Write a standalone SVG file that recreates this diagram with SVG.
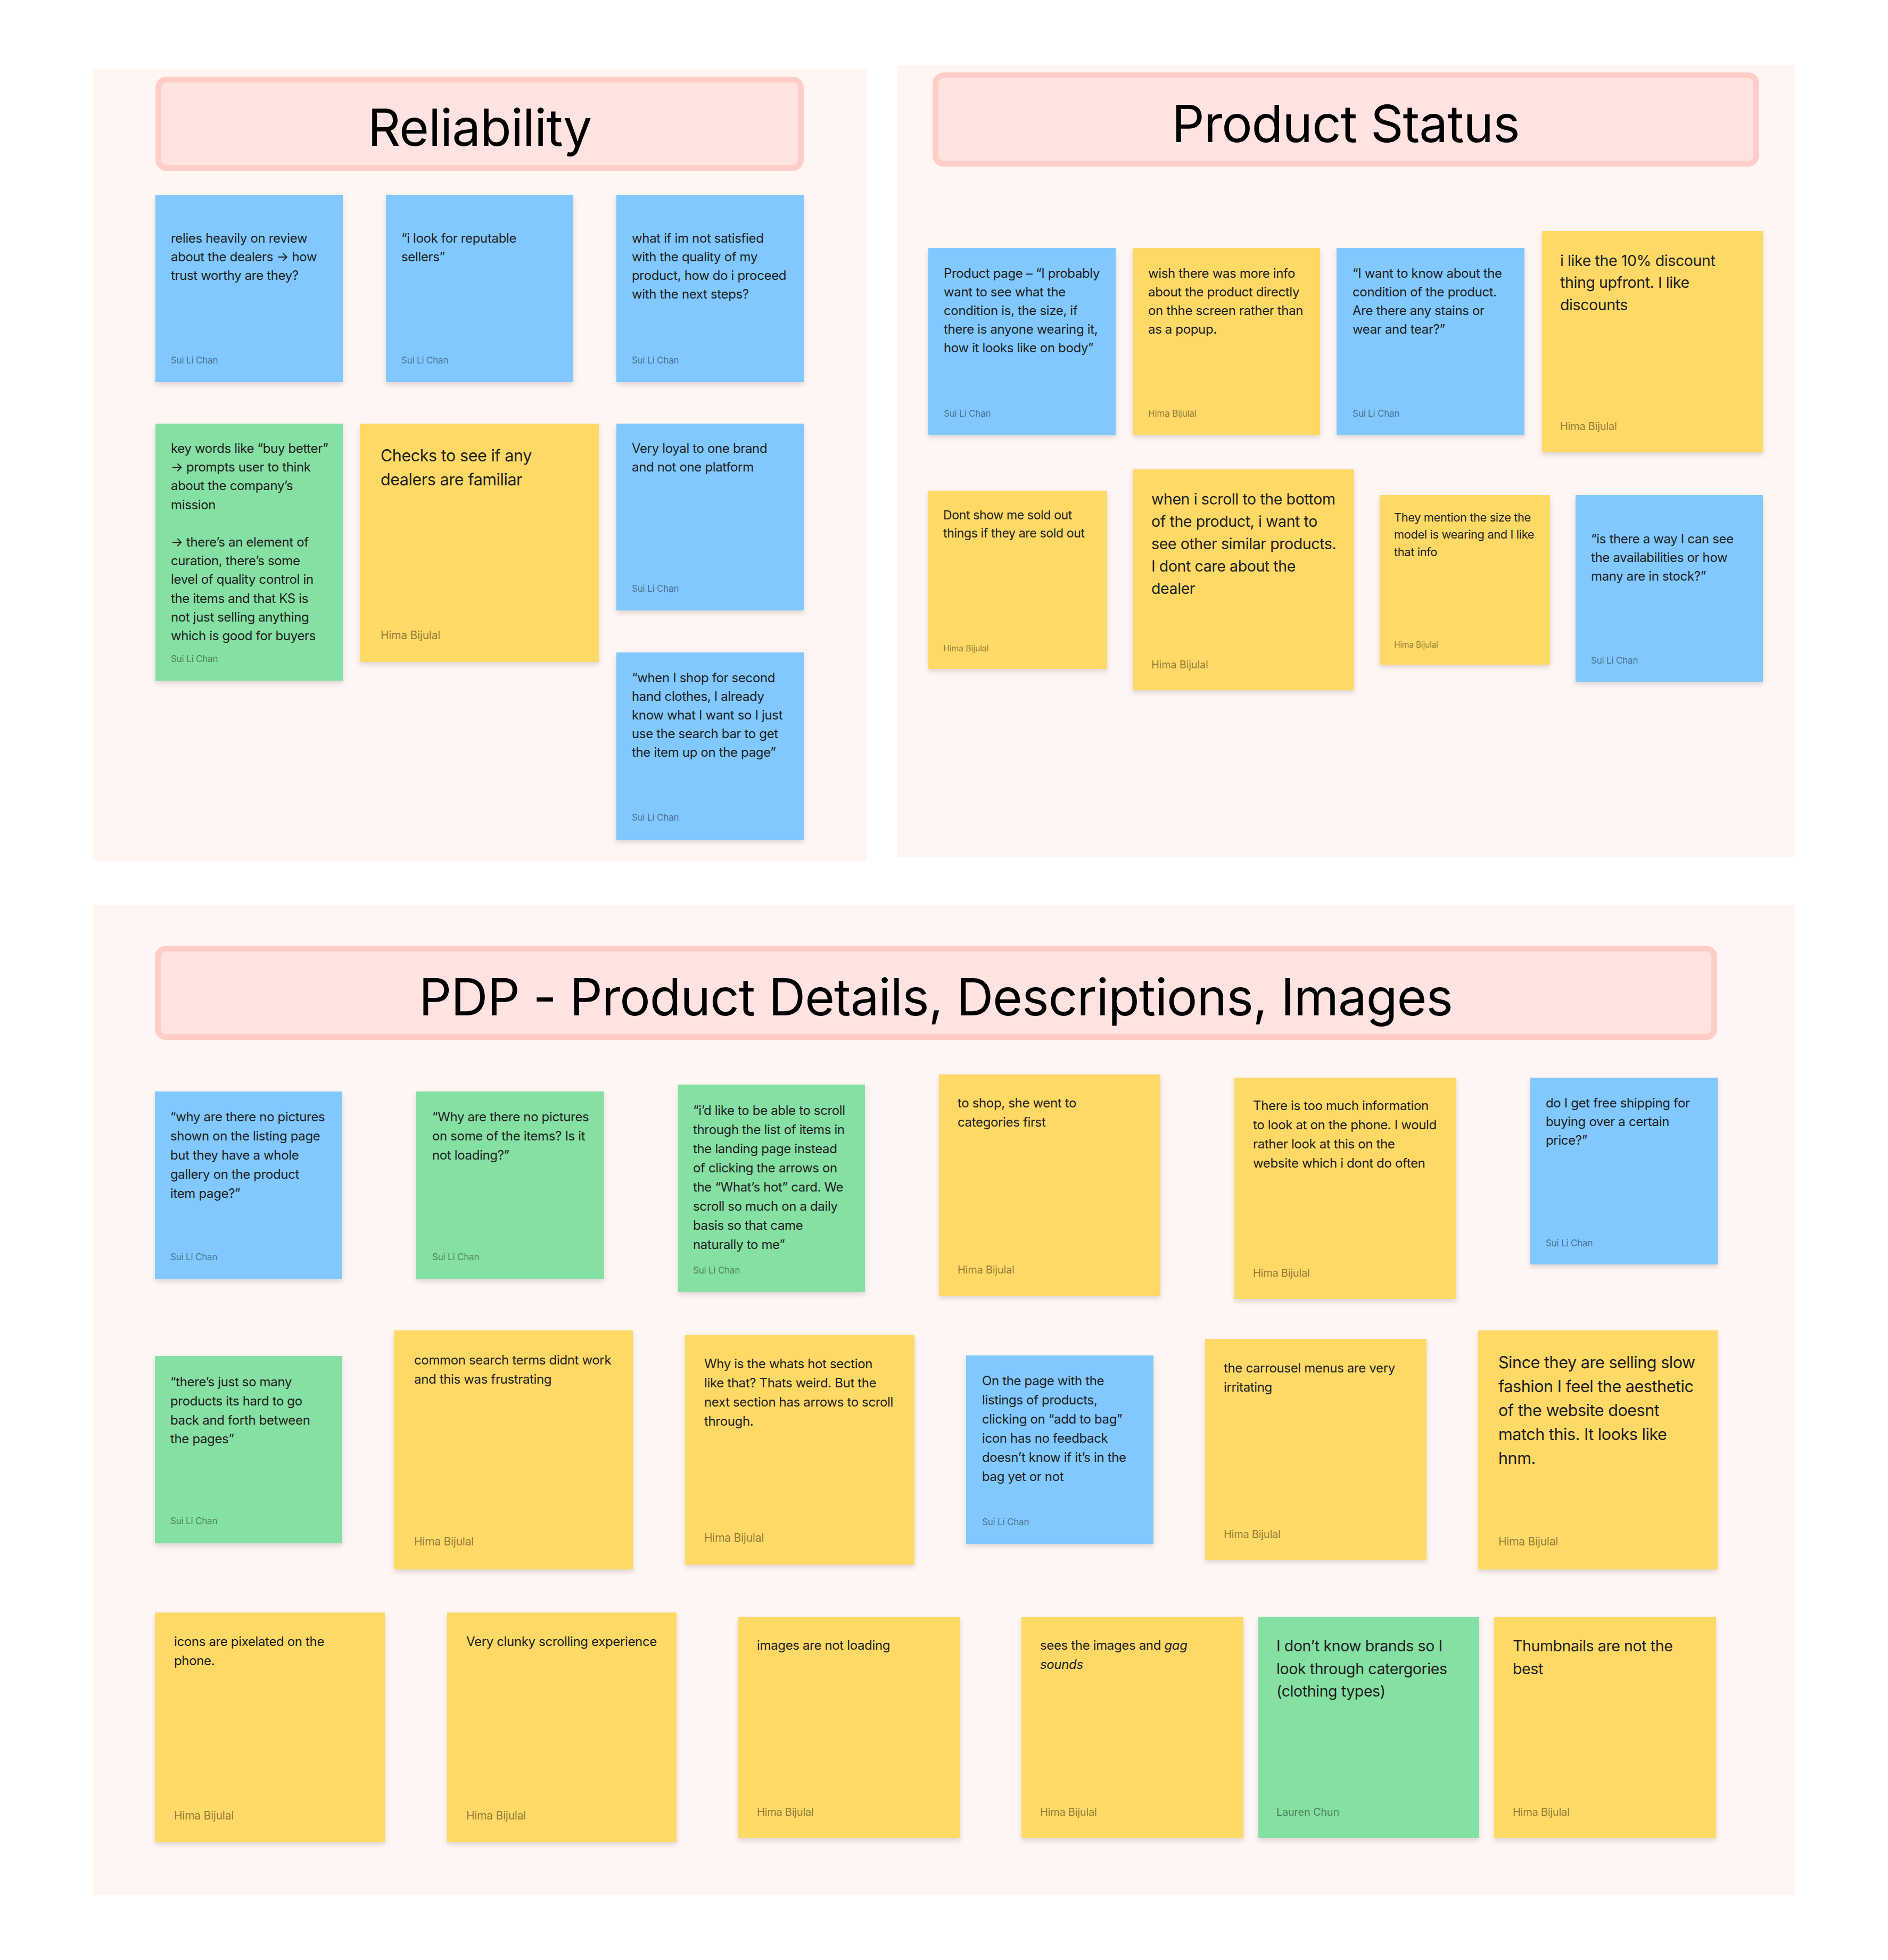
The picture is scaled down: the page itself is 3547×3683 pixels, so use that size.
<svg xmlns="http://www.w3.org/2000/svg" width="3547" height="3683" viewBox="0 0 3547 3683">
<defs>
<filter id="sh" x="-10%" y="-10%" width="120%" height="125%">
<feDropShadow dx="0" dy="5" stdDeviation="5" flood-color="#000" flood-opacity="0.13"/>
</filter>
<style>
.sec{fill:#FFF5F3}
.ttl{fill:#FFE3E0;stroke:#FFCDC8;stroke-width:11}
.tt{font-family:Inter,"Liberation Sans",sans-serif;font-size:96px;fill:#000;text-anchor:middle;letter-spacing:-1.1px}
.blue{fill:#80C8FF;filter:url(#sh)}
.yel{fill:#FFD966;filter:url(#sh)}
.grn{fill:#85E0A3;filter:url(#sh)}
.t{font-family:Inter,"Liberation Sans",sans-serif;font-size:24px;fill:#1E1E1E;letter-spacing:-0.35px}
.tl{font-family:Inter,"Liberation Sans",sans-serif;font-size:30.5px;fill:#1E1E1E;letter-spacing:-0.45px}
.tm{font-family:Inter,"Liberation Sans",sans-serif;font-size:28.5px;fill:#1E1E1E;letter-spacing:-0.4px}
.a{font-family:Inter,"Liberation Sans",sans-serif;font-size:17px;fill:#000;fill-opacity:0.45;letter-spacing:-0.2px}
.al{font-family:Inter,"Liberation Sans",sans-serif;font-size:21px;fill:#000;fill-opacity:0.45;letter-spacing:-0.25px}
</style>
</defs>
<rect width="3547" height="3683" fill="#FFFFFF"/>

<g id="section-reliability">
<rect class="sec" x="174" y="130" width="1454" height="1488"/>
<rect class="ttl" x="297.5" y="149.5" width="1207" height="166" rx="15"/>
<text class="tt" x="901" y="274">Reliability</text>
</g>

<g id="section-product-status">
<rect class="sec" x="1685" y="122" width="1687" height="1488"/>
<rect class="ttl" x="1757.5" y="141.5" width="1542" height="166" rx="15"/>
<text class="tt" x="2528" y="267">Product Status</text>
</g>

<g id="section-pdp">
<rect class="sec" x="174" y="1700" width="3198" height="1861"/>
<rect class="ttl" x="296.5" y="1782.5" width="2924" height="166" rx="15"/>
<text class="tt" x="1758" y="1908">PDP - Product Details, Descriptions, Images</text>
</g>

<g id="connectors"></g>

<!-- Reliability notes -->
<g id="r1">
<rect class="blue" x="292" y="366" width="352" height="352"/>
<text class="t"><tspan x="321" y="456">relies heavily on review</tspan><tspan x="321" y="491">about the dealers → how</tspan><tspan x="321" y="526">trust worthy are they?</tspan></text>
<text class="a" x="321" y="683">Sui Li Chan</text>
</g>
<g id="r2">
<rect class="blue" x="725" y="366" width="352" height="352"/>
<text class="t"><tspan x="754" y="456">“i look for reputable</tspan><tspan x="754" y="491">sellers”</tspan></text>
<text class="a" x="754" y="683">Sui Li Chan</text>
</g>
<g id="r3">
<rect class="blue" x="1158" y="366" width="352" height="352"/>
<text class="t"><tspan x="1187" y="456">what if im not satisfied</tspan><tspan x="1187" y="491">with the quality of my</tspan><tspan x="1187" y="526">product, how do i proceed</tspan><tspan x="1187" y="561">with the next steps?</tspan></text>
<text class="a" x="1187" y="683">Sui Li Chan</text>
</g>
<g id="r4">
<rect class="grn" x="292" y="796" width="352" height="483"/>
<text class="t"><tspan x="321" y="851">key words like “buy better”</tspan><tspan x="321" y="886">→ prompts user to think</tspan><tspan x="321" y="921">about the company’s</tspan><tspan x="321" y="957">mission</tspan><tspan x="321" y="1027">→ there’s an element of</tspan><tspan x="321" y="1062">curation, there’s some</tspan><tspan x="321" y="1097">level of quality control in</tspan><tspan x="321" y="1133">the items and that KS is</tspan><tspan x="321" y="1168">not just selling anything</tspan><tspan x="321" y="1203">which is good for buyers</tspan></text>
<text class="a" x="321" y="1244">Sui Li Chan</text>
</g>
<g id="r5">
<rect class="yel" x="676" y="796" width="449" height="448"/>
<text class="tl"><tspan x="715" y="867">Checks to see if any</tspan><tspan x="715" y="912">dealers are familiar</tspan></text>
<text class="al" x="715" y="1201">Hima Bijulal</text>
</g>
<g id="r6">
<rect class="blue" x="1158" y="796" width="352" height="351"/>
<text class="t"><tspan x="1187" y="851">Very loyal to one brand</tspan><tspan x="1187" y="886">and not one platform</tspan></text>
<text class="a" x="1187" y="1112">Sui Li Chan</text>
</g>
<g id="r7">
<rect class="blue" x="1158" y="1226" width="352" height="352"/>
<text class="t"><tspan x="1187" y="1282">“when I shop for second</tspan><tspan x="1187" y="1317">hand clothes, I already</tspan><tspan x="1187" y="1352">know what I want so I just</tspan><tspan x="1187" y="1387">use the search bar to get</tspan><tspan x="1187" y="1422">the item up on the page”</tspan></text>
<text class="a" x="1187" y="1542">Sui Li Chan</text>
</g>

<!-- Product Status notes -->
<g id="p1">
<rect class="blue" x="1744" y="466" width="352" height="351"/>
<text class="t"><tspan x="1773" y="522">Product page – “I probably</tspan><tspan x="1773" y="557">want to see what the</tspan><tspan x="1773" y="592">condition is, the size, if</tspan><tspan x="1773" y="627">there is anyone wearing it,</tspan><tspan x="1773" y="662">how it looks like on body”</tspan></text>
<text class="a" x="1773" y="783">Sui Li Chan</text>
</g>
<g id="p2">
<rect class="yel" x="2128" y="466" width="352" height="351"/>
<text class="t"><tspan x="2157" y="522">wish there was more info</tspan><tspan x="2157" y="557">about the product directly</tspan><tspan x="2157" y="592">on thhe screen rather than</tspan><tspan x="2157" y="627">as a popup.</tspan></text>
<text class="a" x="2157" y="783">Hima Bijulal</text>
</g>
<g id="p3">
<rect class="blue" x="2511" y="466" width="353" height="351"/>
<text class="t"><tspan x="2541" y="522">“I want to know about the</tspan><tspan x="2541" y="557">condition of the product.</tspan><tspan x="2541" y="592">Are there any stains or</tspan><tspan x="2541" y="627">wear and tear?”</tspan></text>
<text class="a" x="2541" y="783">Sui Li Chan</text>
</g>
<g id="p4">
<rect class="yel" x="2897" y="434" width="415" height="416"/>
<text class="tm"><tspan x="2931" y="500">i like the 10% discount</tspan><tspan x="2931" y="541">thing upfront. I like</tspan><tspan x="2931" y="583">discounts</tspan></text>
<text class="al" x="2931" y="808" style="font-size:20px">Hima Bijulal</text>
</g>
<g id="p5">
<rect class="yel" x="1744" y="922" width="336" height="335"/>
<text class="t" style="font-size:23px"><tspan x="1772" y="976">Dont show me sold out</tspan><tspan x="1772" y="1010">things if they are sold out</tspan></text>
<text class="a" x="1772" y="1224" style="font-size:16px">Hima Bijulal</text>
</g>
<g id="p6">
<rect class="yel" x="2128" y="882" width="416" height="415"/>
<text class="tm"><tspan x="2163" y="948">when i scroll to the bottom</tspan><tspan x="2163" y="990">of the product, i want to</tspan><tspan x="2163" y="1032">see other similar products.</tspan><tspan x="2163" y="1074">I dont care about the</tspan><tspan x="2163" y="1116">dealer</tspan></text>
<text class="al" x="2163" y="1256" style="font-size:20px">Hima Bijulal</text>
</g>
<g id="p7">
<rect class="yel" x="2592" y="930" width="320" height="319"/>
<text class="t" style="font-size:21.8px"><tspan x="2619" y="980">They mention the size the</tspan><tspan x="2619" y="1012">model is wearing and I like</tspan><tspan x="2619" y="1045">that info</tspan></text>
<text class="a" x="2619" y="1217" style="font-size:15.5px">Hima Bijulal</text>
</g>
<g id="p8">
<rect class="blue" x="2960" y="930" width="352" height="351"/>
<text class="t"><tspan x="2989" y="1021">“is there a way I can see</tspan><tspan x="2989" y="1056">the availabilities or how</tspan><tspan x="2989" y="1091">many are in stock?”</tspan></text>
<text class="a" x="2989" y="1247">Sui Li Chan</text>
</g>

<!-- PDP row 1 -->
<g id="d1">
<rect class="blue" x="291" y="2051" width="352" height="352"/>
<text class="t"><tspan x="320" y="2107">“why are there no pictures</tspan><tspan x="320" y="2143">shown on the listing page</tspan><tspan x="320" y="2179">but they have a whole</tspan><tspan x="320" y="2215">gallery on the product</tspan><tspan x="320" y="2251">item page?”</tspan></text>
<text class="a" x="320" y="2368">Sui Li Chan</text>
</g>
<g id="d2">
<rect class="grn" x="782" y="2051" width="353" height="352"/>
<text class="t"><tspan x="812" y="2107">“Why are there no pictures</tspan><tspan x="812" y="2143">on some of the items? Is it</tspan><tspan x="812" y="2179">not loading?”</tspan></text>
<text class="a" x="812" y="2368">Sui Li Chan</text>
</g>
<g id="d3">
<rect class="grn" x="1274" y="2038" width="351" height="390"/>
<text class="t"><tspan x="1302" y="2095">“i’d like to be able to scroll</tspan><tspan x="1302" y="2131">through the list of items in</tspan><tspan x="1302" y="2167">the landing page instead</tspan><tspan x="1302" y="2203">of clicking the arrows on</tspan><tspan x="1302" y="2239">the “What’s hot” card. We</tspan><tspan x="1302" y="2275">scroll so much on a daily</tspan><tspan x="1302" y="2311">basis so that came</tspan><tspan x="1302" y="2347">naturally to me”</tspan></text>
<text class="a" x="1302" y="2393">Sui Li Chan</text>
</g>
<g id="d4">
<rect class="yel" x="1764" y="2019" width="416" height="416"/>
<text class="t"><tspan x="1799" y="2081">to shop, she went to</tspan><tspan x="1799" y="2117">categories first</tspan></text>
<text class="al" x="1799" y="2393" style="font-size:20px">Hima Bijulal</text>
</g>
<g id="d5">
<rect class="yel" x="2319" y="2025" width="417" height="416"/>
<text class="t"><tspan x="2354" y="2086">There is too much information</tspan><tspan x="2354" y="2122">to look at on the phone. I would</tspan><tspan x="2354" y="2158">rather look at this on  the</tspan><tspan x="2354" y="2194">website which i dont do often</tspan></text>
<text class="al" x="2354" y="2399" style="font-size:20px">Hima Bijulal</text>
</g>
<g id="d6">
<rect class="blue" x="2875" y="2025" width="352" height="351"/>
<text class="t"><tspan x="2904" y="2081">do I get free shipping for</tspan><tspan x="2904" y="2116">buying over a certain</tspan><tspan x="2904" y="2151">price?”</tspan></text>
<text class="a" x="2904" y="2342">Sui Li Chan</text>
</g>

<!-- PDP row 2 -->
<g id="e1">
<rect class="grn" x="291" y="2548" width="352" height="352"/>
<text class="t"><tspan x="320" y="2605">“there’s just so many</tspan><tspan x="320" y="2641">products its hard to go</tspan><tspan x="320" y="2677">back and forth between</tspan><tspan x="320" y="2712">the pages”</tspan></text>
<text class="a" x="320" y="2864">Sui Li Chan</text>
</g>
<g id="e2">
<rect class="yel" x="740" y="2500" width="449" height="449"/>
<text class="t"><tspan x="778" y="2564">common search terms didnt work</tspan><tspan x="778" y="2600">and this was frustrating</tspan></text>
<text class="al" x="778" y="2904">Hima Bijulal</text>
</g>
<g id="e3">
<rect class="yel" x="1287" y="2508" width="431" height="432"/>
<text class="t"><tspan x="1323" y="2571">Why is the whats hot section</tspan><tspan x="1323" y="2607">like that? Thats weird. But the</tspan><tspan x="1323" y="2643">next section has arrows to scroll</tspan><tspan x="1323" y="2679">through.</tspan></text>
<text class="al" x="1323" y="2897">Hima Bijulal</text>
</g>
<g id="e4">
<rect class="blue" x="1815" y="2547" width="352" height="354"/>
<text class="t"><tspan x="1845" y="2603">On the page with the</tspan><tspan x="1845" y="2639">listings of products,</tspan><tspan x="1845" y="2675">clicking on “add to bag”</tspan><tspan x="1845" y="2711">icon has no feedback</tspan><tspan x="1845" y="2747">doesn’t know if it’s in the</tspan><tspan x="1845" y="2783">bag yet or not</tspan></text>
<text class="a" x="1845" y="2866">Sui Li Chan</text>
</g>
<g id="e5">
<rect class="yel" x="2264" y="2516" width="416" height="415"/>
<text class="t"><tspan x="2299" y="2579">the carrousel menus are very</tspan><tspan x="2299" y="2615">irritating</tspan></text>
<text class="al" x="2299" y="2890" style="font-size:20px">Hima Bijulal</text>
</g>
<g id="e6">
<rect class="yel" x="2777" y="2500" width="450" height="449"/>
<text class="tl"><tspan x="2815" y="2571">Since they are selling slow</tspan><tspan x="2815" y="2616">fashion I feel the aesthetic</tspan><tspan x="2815" y="2661">of the website doesnt</tspan><tspan x="2815" y="2706">match this. It looks like</tspan><tspan x="2815" y="2751">hnm.</tspan></text>
<text class="al" x="2815" y="2904">Hima Bijulal</text>
</g>

<!-- PDP row 3 -->
<g id="f1">
<rect class="yel" x="291" y="3030" width="432" height="431"/>
<text class="t"><tspan x="327" y="3093">icons are pixelated on the</tspan><tspan x="327" y="3129">phone.</tspan></text>
<text class="al" x="327" y="3419">Hima Bijulal</text>
</g>
<g id="f2">
<rect class="yel" x="840" y="3030" width="431" height="431"/>
<text class="t"><tspan x="876" y="3093">Very clunky scrolling experience</tspan></text>
<text class="al" x="876" y="3419">Hima Bijulal</text>
</g>
<g id="f3">
<rect class="yel" x="1387" y="3038" width="417" height="416"/>
<text class="t"><tspan x="1422" y="3100">images are not loading</tspan></text>
<text class="al" x="1422" y="3412" style="font-size:20px">Hima Bijulal</text>
</g>
<g id="f4">
<rect class="yel" x="1919" y="3038" width="417" height="416"/>
<text class="t"><tspan x="1954" y="3100">sees the images and <tspan font-style="italic">gag</tspan></tspan><tspan x="1954" y="3136" font-style="italic">sounds</tspan></text>
<text class="al" x="1954" y="3412" style="font-size:20px">Hima Bijulal</text>
</g>
<g id="f5">
<rect class="grn" x="2364" y="3038" width="415" height="416"/>
<text class="tm"><tspan x="2398" y="3103">I don’t know brands so I</tspan><tspan x="2398" y="3146">look through catergories</tspan><tspan x="2398" y="3188">(clothing types)</tspan></text>
<text class="al" x="2398" y="3412" style="font-size:20px">Lauren Chun</text>
</g>
<g id="f6">
<rect class="yel" x="2807" y="3038" width="417" height="416"/>
<text class="tm"><tspan x="2842" y="3103">Thumbnails are not the</tspan><tspan x="2842" y="3146">best</tspan></text>
<text class="al" x="2842" y="3412" style="font-size:20px">Hima Bijulal</text>
</g>
</svg>
